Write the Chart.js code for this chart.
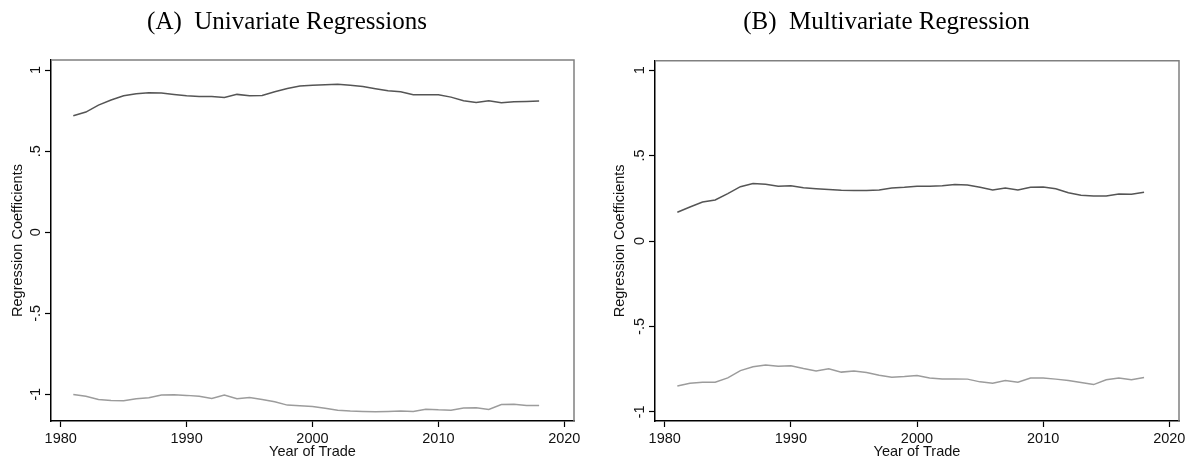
<!DOCTYPE html>
<html>
<head>
<meta charset="utf-8">
<script src="https://cdn.jsdelivr.net/npm/chart.js@4"></script>
<style>
  html, body { margin: 0; padding: 0; background: #fff; }
  #wrap { position: relative; width: 1187px; height: 461px; }
  canvas { position: absolute; top: 0; }
  #chartA { left: 0; }
  #chartB { left: 594px; }
</style>
</head>
<body>
<div id="wrap">
  <canvas id="chartA" width="580" height="461"></canvas>
  <canvas id="chartB" width="593" height="461"></canvas>
</div>
<script>
// years of trade
const years = [1981, 1982, 1983, 1984, 1985, 1986, 1987, 1988, 1989, 1990,
  1991, 1992, 1993, 1994, 1995, 1996, 1997, 1998, 1999, 2000,
  2001, 2002, 2003, 2004, 2005, 2006, 2007, 2008, 2009, 2010,
  2011, 2012, 2013, 2014, 2015, 2016, 2017, 2018];

// (A) univariate regressions
const uniTop = [0.718, 0.741, 0.784, 0.815, 0.841, 0.854, 0.86, 0.858, 0.85, 0.841,
  0.837, 0.837, 0.831, 0.85, 0.841, 0.843, 0.866, 0.886, 0.901, 0.907,
  0.909, 0.912, 0.907, 0.899, 0.885, 0.872, 0.866, 0.848, 0.848, 0.848,
  0.833, 0.811, 0.8, 0.811, 0.798, 0.804, 0.806, 0.809];
const uniBottom = [-1.0, -1.012, -1.031, -1.037, -1.039, -1.027, -1.021, -1.004, -1.002, -1.006,
  -1.012, -1.025, -1.004, -1.027, -1.019, -1.031, -1.045, -1.066, -1.07, -1.074,
  -1.086, -1.097, -1.103, -1.105, -1.107, -1.105, -1.103, -1.105, -1.091, -1.095,
  -1.097, -1.084, -1.082, -1.093, -1.062, -1.06, -1.068, -1.068];

// (B) multivariate regression
const multiTop = [0.168, 0.199, 0.228, 0.24, 0.277, 0.318, 0.336, 0.332, 0.32, 0.324,
  0.312, 0.306, 0.301, 0.297, 0.295, 0.295, 0.299, 0.31, 0.314, 0.32,
  0.32, 0.324, 0.33, 0.328, 0.314, 0.299, 0.31, 0.299, 0.314, 0.316,
  0.306, 0.283, 0.268, 0.264, 0.264, 0.275, 0.273, 0.285];
const multiBottom = [-0.848, -0.832, -0.826, -0.826, -0.801, -0.758, -0.736, -0.725, -0.732, -0.73,
  -0.746, -0.76, -0.748, -0.767, -0.76, -0.769, -0.785, -0.797, -0.793, -0.787,
  -0.801, -0.807, -0.807, -0.808, -0.824, -0.832, -0.816, -0.826, -0.801, -0.801,
  -0.808, -0.816, -0.828, -0.84, -0.812, -0.801, -0.812, -0.799];

const xTicks = [1980, 1990, 2000, 2010, 2020];
const yTicks = [-1, -0.5, 0, 0.5, 1];
const yTickLabels = ["-1", "-.5", "0", ".5", "1"];

Chart.defaults.font.family = "'Liberation Sans', Arial, sans-serif";
Chart.defaults.color = "#111";

// gray frame on top and right like Stata's plot region
const frame = {
  id: "frame",
  afterDatasetsDraw(chart) {
    const { ctx, chartArea: a } = chart;
    ctx.save();
    ctx.strokeStyle = "#808080";
    ctx.lineWidth = 1.5;
    ctx.beginPath();
    ctx.moveTo(a.left, a.top);
    ctx.lineTo(a.right, a.top);
    ctx.lineTo(a.right, a.bottom);
    ctx.stroke();
    ctx.restore();
  },
};

function pts(ys) {
  return years.map((y, i) => ({ x: y, y: ys[i] }));
}

function panel(id, title, top, bottom, yMin, yMax, yWidth, padRight, titleGap, yTitlePad) {
  return new Chart(document.getElementById(id), {
    type: "line",
    data: {
      datasets: [
        { data: pts(top), borderColor: "#555555", borderWidth: 1.5, pointRadius: 0 },
        { data: pts(bottom), borderColor: "#9c9c9c", borderWidth: 1.5, pointRadius: 0 },
      ],
    },
    options: {
      responsive: false,
      animation: false,
      layout: { padding: { right: padRight } },
      plugins: {
        legend: { display: false },
        tooltip: { enabled: false },
        title: {
          display: true,
          text: title,
          color: "#000",
          font: { family: "'Liberation Serif', 'Times New Roman', serif", size: 25, weight: "normal" },
          padding: { top: 7, bottom: titleGap },
        },
      },
      scales: {
        x: {
          type: "linear",
          min: 1979.23,
          max: 2020.77,
          afterBuildTicks: (s) => { s.ticks = xTicks.map((v) => ({ value: v })); },
          afterFit: (s) => { s.height = 40; s.paddingLeft = 0; s.paddingRight = 0; },
          ticks: { font: { size: 14.5 }, padding: 3, maxRotation: 0, callback: (v) => String(v) },
          grid: { drawOnChartArea: false, tickLength: 6, tickColor: "#000", tickWidth: 1.2 },
          border: { color: "#000", width: 1.5 },
          title: { display: true, text: "Year of Trade", font: { size: 14.5 }, padding: { top: 0, bottom: 0 } },
        },
        y: {
          min: yMin,
          max: yMax,
          afterBuildTicks: (s) => { s.ticks = yTicks.map((v) => ({ value: v })); },
          afterFit: (s) => { s.width = yWidth; s.paddingTop = 0; s.paddingBottom = 0; },
          ticks: {
            font: { size: 14.5 },
            padding: 1,
            minRotation: 90,
            maxRotation: 90,
            crossAlign: "center",
            callback: (v, i) => yTickLabels[i],
          },
          grid: { drawOnChartArea: false, tickLength: 6, tickColor: "#000", tickWidth: 1.2 },
          border: { color: "#000", width: 1.5 },
          title: { display: true, text: "Regression Coefficients", font: { size: 14.5 }, padding: { top: yTitlePad, bottom: 0 } },
        },
      },
    },
    plugins: [frame],
  });
}

panel("chartA", "(A)  Univariate Regressions", uniTop, uniBottom, -1.164, 1.062, 51, 6, 23, 9);
panel("chartB", "(B)  Multivariate Regression", multiTop, multiBottom, -1.053, 1.055, 61, 8, 23.7, 17);
</script>
</body>
</html>
